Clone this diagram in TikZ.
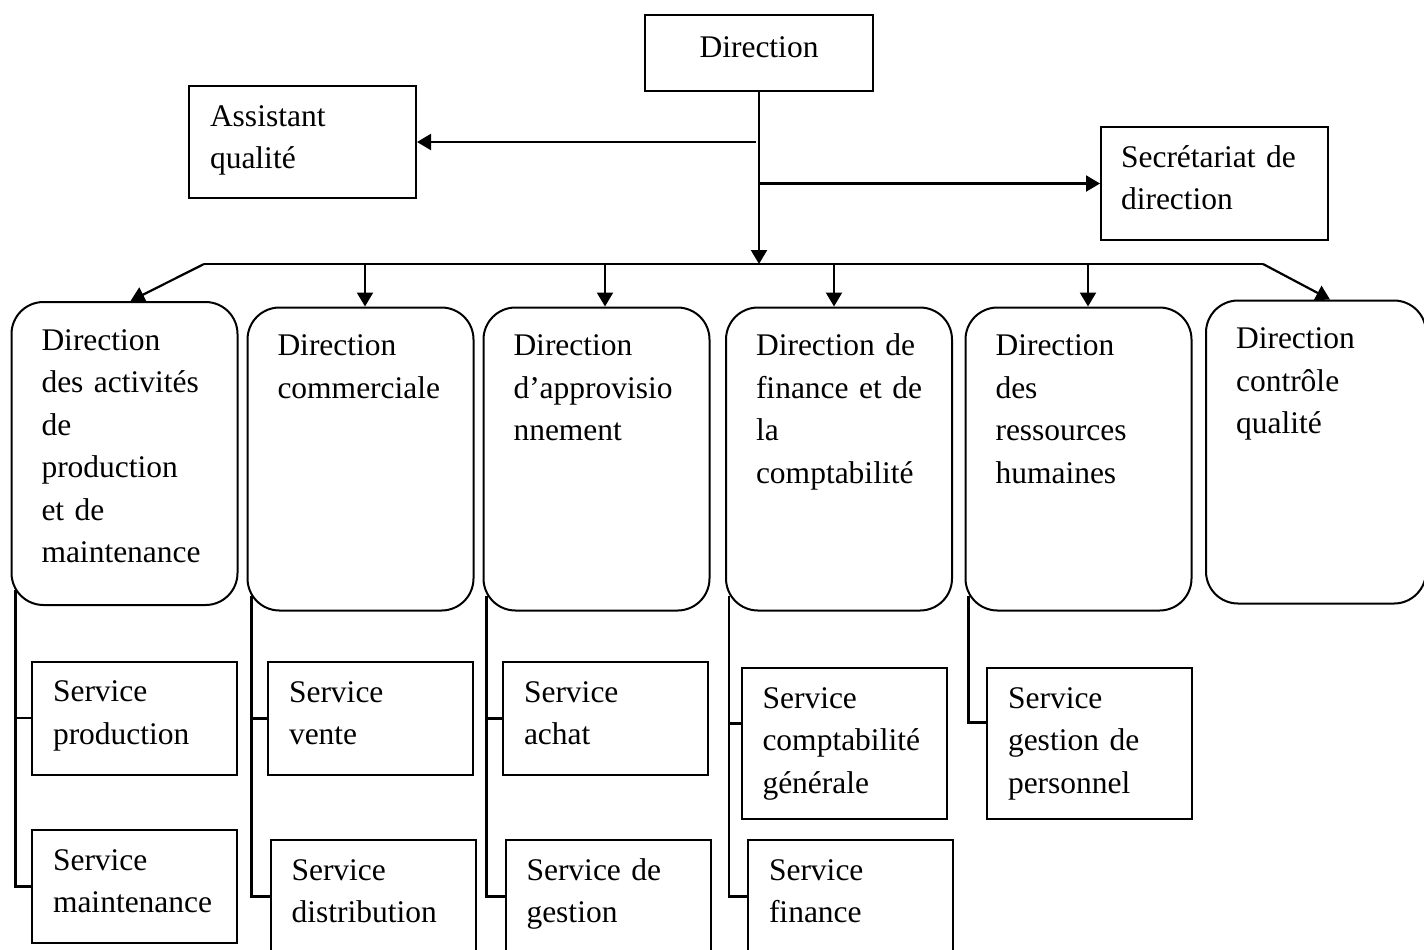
\documentclass[tikz,border=0pt]{standalone}
\usepackage{fontspec}
\setmainfont{Liberation Serif}
\usetikzlibrary{arrows.meta}

\tikzset{
	cadre/.style={draw, line width=1pt, inner xsep=0pt, inner ysep=0pt, align=left,
		text height=20pt, font=\fontsize{15.75}{21.25}\selectfont,
		execute at begin node={\hyphenpenalty=10000\relax}},
	service/.style={cadre, minimum width=102.5pt, text width=81.5pt, text depth=36.5pt},
	servicelong/.style={service, text depth=55.5pt},
	dirbox/.style={cadre, rounded corners=16pt, minimum width=113pt, text width=83pt,
		text height=24pt, text depth=127.5pt},
	lien/.style={line width=1.1pt},
	>={Triangle[length=7pt,width=8pt]}
}

\begin{document}
\begin{tikzpicture}[x=0.5pt, y=-0.5pt]
	\useasboundingbox (0,0) rectangle (1424,949);

	% haut
	\node (dir) at (759,53) [cadre, align=center, minimum width=114pt, text width=100pt, text height=21pt, text depth=17pt] {Direction};
	\node (aq) at (302.5,142) [cadre, minimum width=113.5pt, text width=92.5pt, text depth=36pt] {Assistant\\qualité};
	\node (sd) at (1214.5,183.5) [cadre, minimum width=113.5pt, text width=93.5pt, text depth=36.5pt] {Secrétariat de\\direction};

	% directions
	\node (d1) at (124.5,453.5) [dirbox] {Direction\\des activités\\de\\production\\et de\\maintenance};
	\node (d2) at (360.5,459) [dirbox] {Direction\\commerciale};
	\node (d3) at (596.5,459) [dirbox] {Direction\\d’approvisio\\nnement};
	\node (d4) at (839,459) [dirbox] {Direction de\\\mbox{finance et de}\\la\\comptabilité};
	\node (d5) at (1078.5,459) [dirbox] {Direction\\des\\ressources\\humaines};
	\node (d6) at (1316,452) [dirbox, minimum width=110pt, text width=80pt] {Direction\\contrôle\\qualité};

	% services
	\node (sprod) at (134.5,718) [service] {Service\\production};
	\node (smaint) at (134.5,886.5) [service] {Service\\maintenance};
	\node (svente) at (370.5,718.5) [service] {Service\\vente};
	\node (sdist) at (373,896.5) [service] {Service\\distribution};
	\node (sachat) at (605.5,718.5) [service] {Service\\achat};
	\node (sgest) at (608,896.5) [service] {Service de\\gestion};
	\node (scg) at (844,743.5) [servicelong] {Service\\comptabilité\\générale};
	\node (sfin) at (850.5,896.5) [service] {Service\\finance};
	\node (spers) at (1089.5,743.5) [servicelong] {Service\\gestion de\\personnel};

	\coordinate (busl) at (204,264);
	\coordinate (busr) at (1263,264);
	\coordinate (b2) at (365,264);
	\coordinate (b3) at (605,264);
	\coordinate (b4) at (834,264);
	\coordinate (b5) at (1088,264);

	\draw[lien, ->] (dir.south) -- (dir.south |- busl);
	\draw[lien, ->] ([xshift=-1.5pt]dir.south |- aq.east) -- (aq.east);
	\draw[lien, ->] (dir.south |- sd.west) -- (sd.west);
	\draw[lien] (busl) -- (busr);
	\draw[lien, ->] (busl) -- ([xshift=3pt]d1.north);
	\draw[lien, ->] (b2) -- (b2 |- d2.north);
	\draw[lien, ->] (b3) -- (b3 |- d3.north);
	\draw[lien, ->] (b4) -- (b4 |- d4.north);
	\draw[lien, ->] (b5) -- (b5 |- d5.north);
	\draw[lien, ->] (busr) -- ([xshift=7pt]d6.north);

	% rattachement des services
	\draw[lien] ([shift={(5,-16)}]d1.south west) |- (sprod.west);
	\draw[lien] ([shift={(5,-16)}]d1.south west) |- (smaint.west);
	\draw[lien] ([shift={(5,-16)}]d2.south west) |- (svente.west);
	\draw[lien] ([shift={(5,-16)}]d2.south west) |- (sdist.west);
	\draw[lien] ([shift={(4,-16)}]d3.south west) |- (sachat.west);
	\draw[lien] ([shift={(4,-16)}]d3.south west) |- (sgest.west);
	\draw[lien] ([shift={(4,-16)}]d4.south west) |- ([yshift=10pt]scg.west);
	\draw[lien] ([shift={(4,-16)}]d4.south west) |- (sfin.west);
	\draw[lien] ([shift={(4,-16)}]d5.south west) |- ([yshift=10.5pt]spers.west);
\end{tikzpicture}
\end{document}
